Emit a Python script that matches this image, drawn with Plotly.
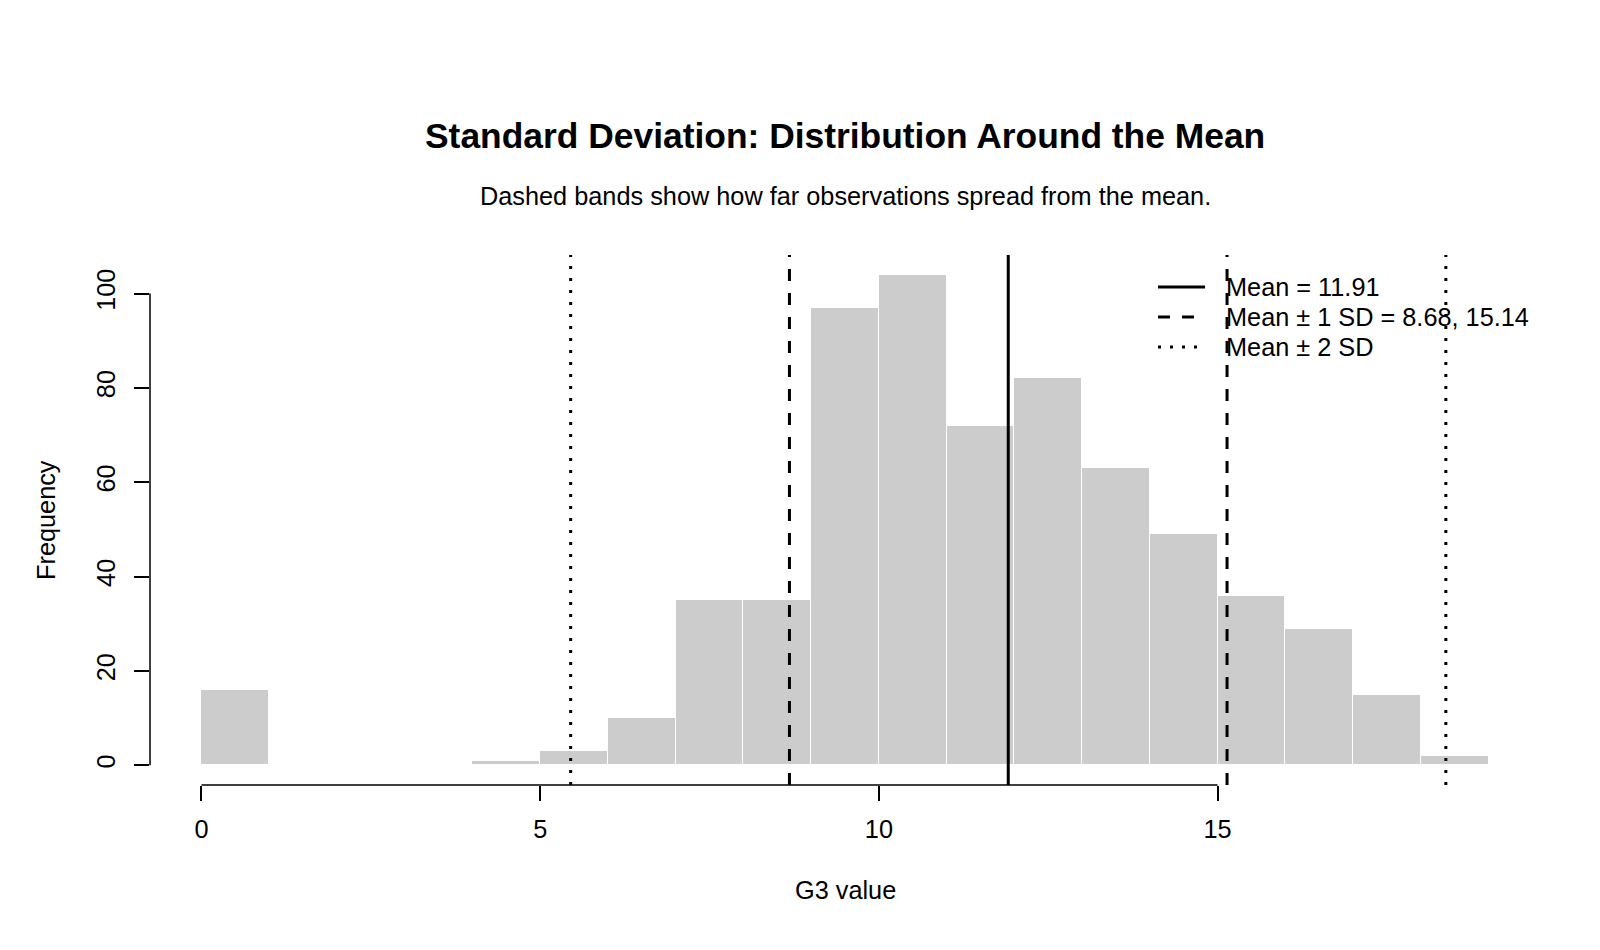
import plotly.graph_objects as go

# ---- data ----
bin_left = list(range(0, 19))
bin_right = list(range(1, 20))
counts = [16, 0, 0, 0, 1, 3, 10, 35, 35, 97, 104, 72, 82, 63, 49, 36, 29, 15, 2]
mean_val = 11.91
sd1_vals = [8.68, 15.14]
sd2_vals = [5.45, 18.37]
x_ticks = [0, 5, 10, 15]
y_ticks = [0, 20, 40, 60, 80, 100]
legend_labels = ["Mean = 11.91", "Mean \u00b1 1 SD = 8.68, 15.14", "Mean \u00b1 2 SD"]
title = "Standard Deviation: Distribution Around the Mean"
subtitle = "Dashed bands show how far observations spread from the mean."
x_title = "G3 value"
y_title = "Frequency"

FONT = "Liberation Sans, Arial, sans-serif"
FS = 25.3
FS_TITLE = 35.4

# R-style axis ranges (4% extension)
xmin, xmax = min(bin_left), max(bin_right)
ymax = max(counts)
xr = [xmin - 0.04 * (xmax - xmin), xmax + 0.04 * (xmax - xmin)]
yr = [-0.04 * ymax, ymax * 1.04]

mids = [(a + b) / 2 for a, b in zip(bin_left, bin_right)]
widths = [b - a for a, b in zip(bin_left, bin_right)]

fig = go.Figure()
fig.add_trace(go.Bar(
    x=mids, y=counts, width=widths,
    marker=dict(color="#CCCCCC", line=dict(color="white", width=1)),
    showlegend=False, hoverinfo="x+y",
))

LW = 3
def vline(x, dash):
    fig.add_shape(type="line", xref="x", yref="paper", x0=x, x1=x, y0=0, y1=1,
                  line=dict(color="black", width=LW, dash=dash))

vline(mean_val, "solid")
for v in sd1_vals:
    vline(v, "12px,12px")
for v in sd2_vals:
    vline(v, "3px,9px")

# R-style axis lines (only across tick range)
fig.add_shape(type="line", xref="x", yref="paper", x0=x_ticks[0], x1=x_ticks[-1], y0=0, y1=0,
              line=dict(color="black", width=1.5))
fig.add_shape(type="line", xref="paper", yref="y", x0=0, x1=0, y0=y_ticks[0], y1=y_ticks[-1],
              line=dict(color="black", width=1.5))

# legend (manual, R bty="n")
W, H = 1600, 950
L, R, T, B = 150, 60, 255, 165
pw, ph = W - L - R, H - T - B
def px2paper_x(px):
    return (px - L) / pw
def px2paper_y(py):
    return (H - B - py) / ph

leg_rows_y = [287, 317, 347]
leg_dash = ["solid", "12px,12px", "3px,9px"]
for yy, d, lab in zip(leg_rows_y, leg_dash, legend_labels):
    fig.add_shape(type="line", xref="paper", yref="paper",
                  x0=px2paper_x(1158), x1=px2paper_x(1205),
                  y0=px2paper_y(yy), y1=px2paper_y(yy),
                  line=dict(color="black", width=LW, dash=d))
    fig.add_annotation(xref="paper", yref="paper", x=px2paper_x(1224), y=px2paper_y(yy),
                       text=lab, showarrow=False, xanchor="left", yanchor="middle",
                       font=dict(family=FONT, size=FS, color="black"))

# titles
fig.add_annotation(xref="paper", yref="paper", x=0.5, y=px2paper_y(136), text="<b>" + title + "</b>",
                   showarrow=False, xanchor="center", yanchor="middle",
                   font=dict(family=FONT, size=FS_TITLE, color="black"))
fig.add_annotation(xref="paper", yref="paper", x=0.5, y=px2paper_y(196), text=subtitle,
                   showarrow=False, xanchor="center", yanchor="middle",
                   font=dict(family=FONT, size=FS, color="black"))
fig.add_annotation(xref="paper", yref="paper", x=0.5, y=px2paper_y(890), text=x_title,
                   showarrow=False, xanchor="center", yanchor="middle",
                   font=dict(family=FONT, size=FS, color="black"))
fig.add_annotation(xref="paper", yref="paper", x=px2paper_x(46), y=0.5, text=y_title,
                   showarrow=False, xanchor="center", yanchor="middle", textangle=-90,
                   font=dict(family=FONT, size=FS, color="black"))

fig.update_layout(
    width=W, height=H,
    margin=dict(l=L, r=R, t=T, b=B, pad=0),
    paper_bgcolor="white", plot_bgcolor="white",
    bargap=0, showlegend=False,
    font=dict(family=FONT, size=FS, color="black"),
    xaxis=dict(range=xr, tickvals=x_ticks, ticktext=[str(v) for v in x_ticks],
               showgrid=False, zeroline=False, showline=False,
               ticks="outside", ticklen=15, tickwidth=1.5, tickcolor="black",
               tickfont=dict(family=FONT, size=FS, color="black"), ticklabelstandoff=7),
    yaxis=dict(range=yr, tickvals=y_ticks, ticktext=[str(v) for v in y_ticks],
               showgrid=False, zeroline=False, showline=False,
               ticks="outside", ticklen=15, tickwidth=1.5, tickcolor="black", tickangle=-90,
               tickfont=dict(family=FONT, size=FS, color="black"), ticklabelstandoff=9),
)

fig.write_html("out.html")
